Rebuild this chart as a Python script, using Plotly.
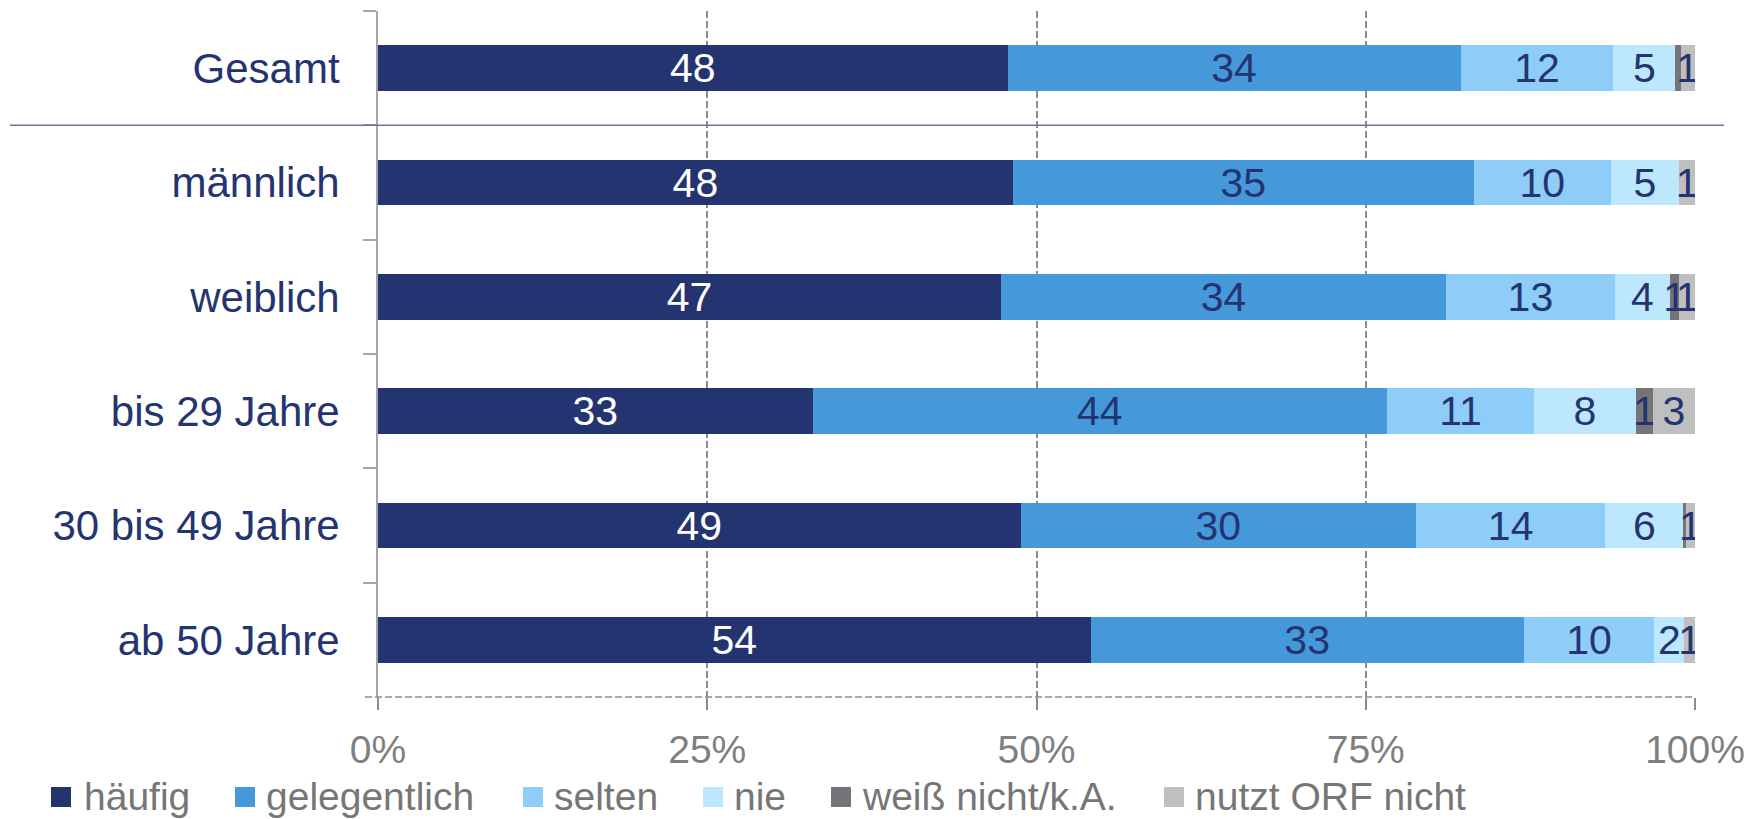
import plotly.graph_objects as go

# ---------------- data ----------------
categories = ["Gesamt", "männlich", "weiblich", "bis 29 Jahre", "30 bis 49 Jahre", "ab 50 Jahre"]
series_names = ["häufig", "gelegentlich", "selten", "nie", "weiß nicht/k.A.", "nutzt ORF nicht"]
haeufig      = [47.8, 48.2, 47.3, 33.0, 48.8, 54.1]
gelegentlich = [34.4, 35.0, 33.8, 43.6, 30.0, 32.9]
selten       = [11.6, 10.4, 12.8, 11.2, 14.4, 9.9]
nie          = [4.7, 5.2, 4.2, 7.7, 5.9, 2.3]
weiss_nicht  = [0.4, 0.0, 0.7, 1.3, 0.2, 0.0]
nutzt_nicht  = [1.1, 1.2, 1.2, 3.2, 0.7, 0.8]
x_tickvals = [0, 25, 50, 75, 100]
x_ticktext = ["0%", "25%", "50%", "75%", "100%"]

series_values = [haeufig, gelegentlich, selten, nie, weiss_nicht, nutzt_nicht]

# ---------------- styles ----------------
colors = ["#243470", "#4599DA", "#8ECDF7", "#BDE7FC", "#747578", "#BFBFBF"]
label_colors = ["#FFFFFF", "#243470", "#243470", "#243470", "#243470", "#243470"]
NAVY = "#243470"
GRAY_TXT = "#7F7F7F"
FONT = "Liberation Sans, Arial, sans-serif"

W, H = 1764, 819
ML = 378
MT = 11
MR = 1764 - 1695
MB = 819 - 697
PW, PH = W - ML - MR, H - MT - MB


def px_x(px):
    """window x pixel -> paper coordinate"""
    return (px - ML) / PW


def px_y(py):
    """window y pixel -> paper coordinate"""
    return (H - MB - py) / PH


fig = go.Figure()
for name, vals, col, lcol in zip(series_names, series_values, colors, label_colors):
    texts = [str(int(round(v))) if round(v) >= 1 else "" for v in vals]
    fig.add_trace(go.Bar(
        y=categories, x=vals, name=name, orientation="h",
        marker=dict(color=col, line=dict(width=0)),
        width=0.4,
        text=texts, textposition="inside", insidetextanchor="middle",
        textangle=0,
        textfont=dict(family=FONT, size=41, color=lcol),
        showlegend=False, hoverinfo="skip",
    ))

shapes = []
# dashed bottom axis line
shapes.append(dict(type="line", xref="paper", yref="paper",
                   x0=px_x(365), x1=1, y0=0, y1=0,
                   line=dict(color="#8C8C8C", width=1.5, dash="7px,3px"), layer="above"))
# separator line below "Gesamt"
shapes.append(dict(type="line", xref="paper", yref="y",
                   x0=px_x(10), x1=px_x(1724), y0=0.5, y1=0.5,
                   line=dict(color="#6573A6", width=1.5), layer="above"))

annotations = []
# manual legend (window pixel positions)
legend_marker_x = [51, 235, 523, 703, 831, 1164]
legend_text_x = [82, 264, 552, 732, 860, 1193]
for name, col, mx, tx in zip(series_names, colors, legend_marker_x, legend_text_x):
    shapes.append(dict(type="rect", xref="paper", yref="paper",
                       x0=px_x(mx), x1=px_x(mx + 20), y0=px_y(807), y1=px_y(787),
                       fillcolor=col, line=dict(width=0)))
    annotations.append(dict(xref="paper", yref="paper", x=px_x(tx), y=px_y(796),
                            xanchor="left", yanchor="middle", text=name, showarrow=False,
                            font=dict(family=FONT, size=39, color="#767676")))

fig.update_layout(
    width=W, height=H,
    barmode="stack",
    plot_bgcolor="white", paper_bgcolor="white",
    margin=dict(l=ML, r=MR, t=MT, b=MB, pad=0),
    uniformtext=dict(mode="show", minsize=41),
    shapes=shapes, annotations=annotations,
    showlegend=False,
    xaxis=dict(range=[0, 100], tickvals=x_tickvals, ticktext=x_ticktext,
               showgrid=True, gridcolor="#8C8C8C", gridwidth=1.5, griddash="7px,3px",
               zeroline=False, showline=False,
               ticks="outside", ticklen=12, tickcolor="#8C8C8C", tickwidth=1.5,
               ticklabelstandoff=6,
               tickfont=dict(family=FONT, size=39, color=GRAY_TXT)),
    yaxis=dict(range=[5.5, -0.5], showgrid=False, zeroline=False,
               showline=True, linecolor="#A6A6A6", linewidth=2,
               ticks="outside", tickson="boundaries", ticklen=13,
               tickcolor="#A6A6A6", tickwidth=2,
               ticklabelstandoff=28,
               tickfont=dict(family=FONT, size=42, color=NAVY)),
)

# remove the page's default body margin so the figure fills the window exactly
fig.write_html("out.html", config={"displayModeBar": False},
               post_script="document.body.style.margin='0px';")
